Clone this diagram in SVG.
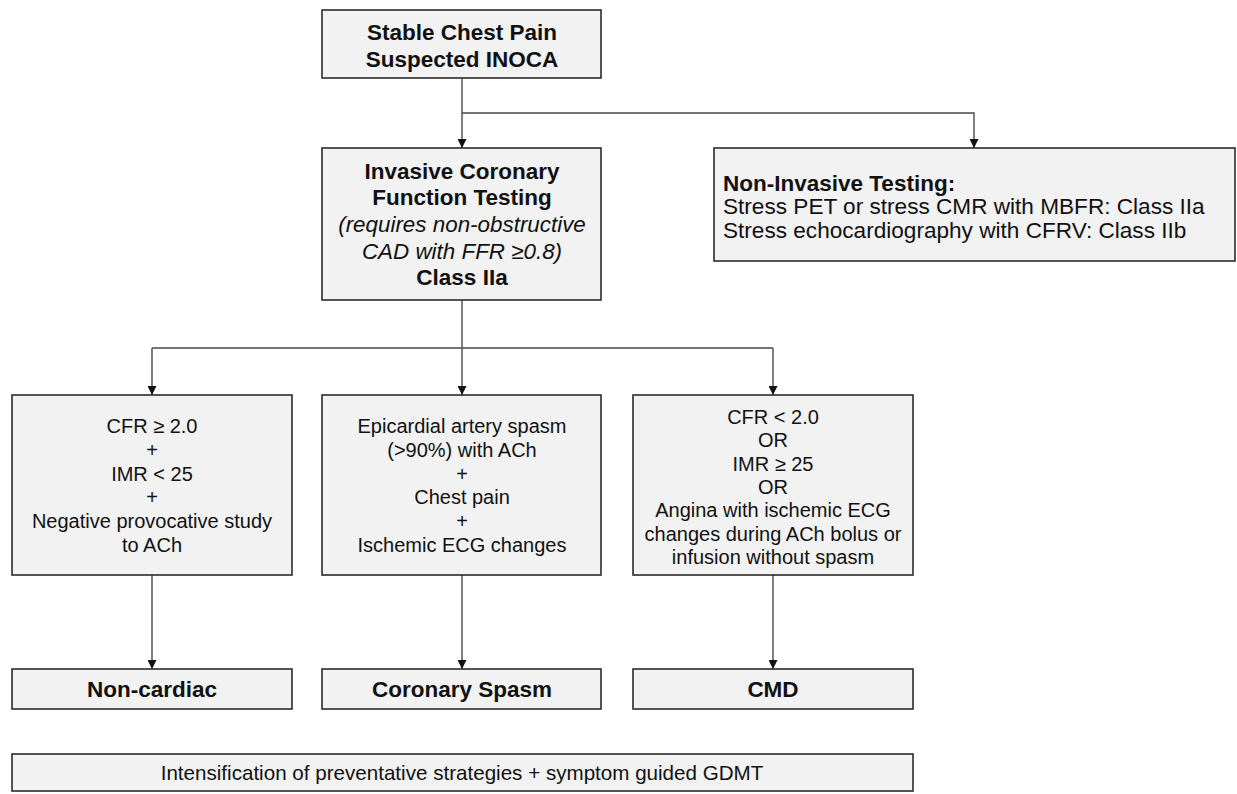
<svg xmlns="http://www.w3.org/2000/svg" width="1237" height="794" viewBox="0 0 1237 794">
<style>
.box{fill:#f2f2f2;stroke:#2b2b2b;stroke-width:1.6}
text{font-family:"Liberation Sans",Arial,Helvetica,sans-serif;fill:#111;dominant-baseline:central}
.c{text-anchor:middle}
.b{font-weight:bold;font-size:22.5px}
.r{font-size:20px}
.r2{font-size:22.6px}
.i{font-style:italic;font-size:22.4px}
.ln{fill:none;stroke:#4a4a4a;stroke-width:1.4}
</style>
<defs>
<marker id="ah" viewBox="0 0 10 10" refX="10" refY="5" markerWidth="10" markerHeight="9" markerUnits="userSpaceOnUse" orient="auto">
<path d="M0,0 L10,5 L0,10 Z" fill="#111"/>
</marker>
</defs>
<rect width="1237" height="794" fill="#fff"/>
<g id="connectors">
<path class="ln" d="M462,78 V148" marker-end="url(#ah)"/>
<path class="ln" d="M462,113 H974 V148" marker-end="url(#ah)"/>
<path class="ln" d="M462,300 V395" marker-end="url(#ah)"/>
<path class="ln" d="M152,348 H773 M152,348 V395" marker-end="url(#ah)"/>
<path class="ln" d="M773,348 V395" marker-end="url(#ah)"/>
<path class="ln" d="M152,575 V669" marker-end="url(#ah)"/>
<path class="ln" d="M462,575 V669" marker-end="url(#ah)"/>
<path class="ln" d="M773,575 V669" marker-end="url(#ah)"/>
</g>
<g id="n-start">
<rect class="box" x="322" y="10" width="279" height="68"/>
<text class="c b" x="462" y="32">Stable Chest Pain</text>
<text class="c b" x="462" y="59">Suspected INOCA</text>
</g>
<g id="n-invasive">
<rect class="box" x="322" y="148" width="279" height="152"/>
<text class="c b" x="462" y="171">Invasive Coronary</text>
<text class="c b" x="462" y="197">Function Testing</text>
<text class="c i" x="462" y="224">(requires non-obstructive</text>
<text class="c i" x="462" y="251">CAD with FFR ≥0.8)</text>
<text class="c b" x="462" y="277">Class IIa</text>
</g>
<g id="n-noninvasive">
<rect class="box" x="714" y="148" width="521" height="113"/>
<text class="b" x="723" y="183">Non-Invasive Testing:</text>
<text class="r2" x="723" y="206">Stress PET or stress CMR with MBFR: Class IIa</text>
<text class="r2" x="723" y="230">Stress echocardiography with CFRV: Class IIb</text>
</g>
<g id="n-normal">
<rect class="box" x="12" y="395" width="280" height="180"/>
<text class="c r" x="152" y="426">CFR ≥ 2.0</text>
<text class="c r" x="152" y="450">+</text>
<text class="c r" x="152" y="474">IMR &lt; 25</text>
<text class="c r" x="152" y="497">+</text>
<text class="c r" x="152" y="521">Negative provocative study</text>
<text class="c r" x="152" y="545">to ACh</text>
</g>
<g id="n-spasm-criteria">
<rect class="box" x="322" y="395" width="279" height="180"/>
<text class="c r" x="462" y="426">Epicardial artery spasm</text>
<text class="c r" x="462" y="450">(&gt;90%) with ACh</text>
<text class="c r" x="462" y="474">+</text>
<text class="c r" x="462" y="497">Chest pain</text>
<text class="c r" x="462" y="521">+</text>
<text class="c r" x="462" y="545">Ischemic ECG changes</text>
</g>
<g id="n-cmd-criteria">
<rect class="box" x="633" y="395" width="280" height="180"/>
<text class="c r" x="773" y="417">CFR &lt; 2.0</text>
<text class="c r" x="773" y="440">OR</text>
<text class="c r" x="773" y="464">IMR ≥ 25</text>
<text class="c r" x="773" y="487">OR</text>
<text class="c r" x="773" y="510">Angina with ischemic ECG</text>
<text class="c r" x="773" y="534">changes during ACh bolus or</text>
<text class="c r" x="773" y="557">infusion without spasm</text>
</g>
<g id="n-noncardiac">
<rect class="box" x="12" y="669" width="280" height="40"/>
<text class="c b" x="152" y="689">Non-cardiac</text>
</g>
<g id="n-spasm">
<rect class="box" x="322" y="669" width="279" height="40"/>
<text class="c b" x="462" y="689">Coronary Spasm</text>
</g>
<g id="n-cmd">
<rect class="box" x="633" y="669" width="280" height="40"/>
<text class="c b" x="773" y="689">CMD</text>
</g>
<g id="n-gdmt">
<rect class="box" x="12" y="754" width="901" height="37"/>
<text class="c r" x="462" y="772" style="font-size:20.6px">Intensification of preventative strategies + symptom guided GDMT</text>
</g>
</svg>
